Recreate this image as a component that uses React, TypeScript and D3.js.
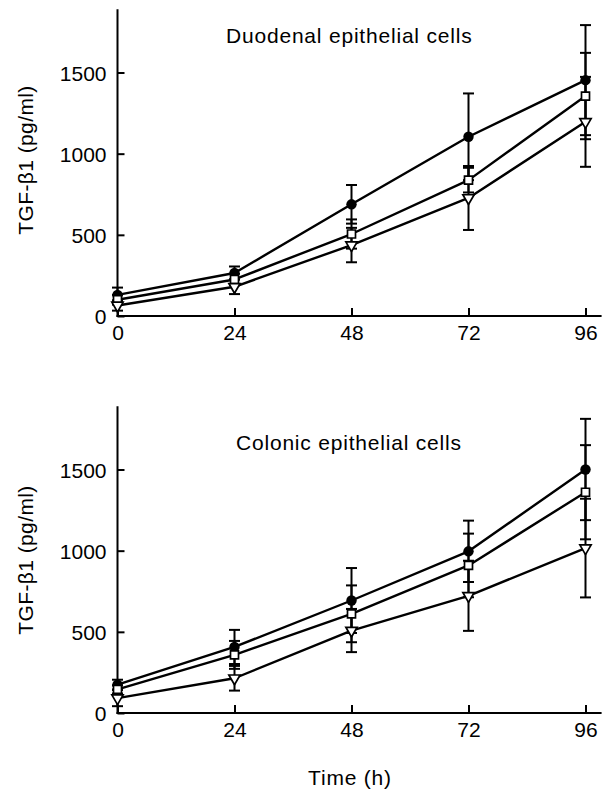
import React, { useEffect, useRef } from "react";
import * as d3 from "d3";

const hours = [0, 24, 48, 72, 96];
const xTicks = [0, 24, 48, 72, 96];
const yTicks = [0, 500, 1000, 1500];
const yLabel = "TGF-β1 (pg/ml)";
const xLabel = "Time (h)";

// duodenal epithelial cells
const duoCircle = [130, 265, 688, 1104, 1453];
const duoCircleSd = [45, 40, 119, 267, 339];
const duoSquare = [100, 225, 505, 837, 1355];
const duoSquareSd = [30, 35, 90, 76, 266];
const duoTriangle = [65, 180, 437, 727, 1196];
const duoTriangleSd = [32, 45, 106, 197, 277];

// colonic epithelial cells
const colCircle = [175, 407, 693, 996, 1500];
const colCircleSd = [30, 105, 200, 189, 312];
const colSquare = [145, 358, 611, 909, 1360];
const colSquareSd = [25, 86, 175, 196, 290];
const colTriangle = [92, 214, 508, 722, 1016];
const colTriangleSd = [50, 76, 133, 216, 304];

const font = "'Liberation Sans', Arial, sans-serif";

type Series = { values: number[]; sd: number[]; marker: string };

const drawPanel = (svg: any, title: string, titleX: number, titleY: number, base: number, labelY: number, series: Series[]) => {
    const x = d3.scaleLinear().domain([0, 96]).range([117.5, 585.5]);
    const y = d3.scaleLinear().domain([0, 1500]).range([base, base - 243.5]);
    const g = svg.append("g");

    // axis lines
    g.append("line")
        .attr("x1", x(0)).attr("x2", x(0))
        .attr("y1", y(1890)).attr("y2", y(0) + 1)
        .attr("stroke", "#000").attr("stroke-width", 2);
    g.append("line")
        .attr("x1", x(0) - 1).attr("x2", x(99.3))
        .attr("y1", y(0)).attr("y2", y(0))
        .attr("stroke", "#000").attr("stroke-width", 2);

    const yAxis = d3.axisLeft(y).tickValues(yTicks).tickFormat(d3.format("d"))
        .tickSizeInner(-7).tickSizeOuter(0).tickPadding(11);
    const ya = g.append("g")
        .attr("transform", `translate(${x(0)},0)`)
        .call(yAxis);
    ya.select(".domain").remove();
    ya.attr("font-size", 21).attr("font-family", font);
    ya.selectAll("line").attr("stroke-width", 2);
    ya.selectAll("text").attr("dy", "0.38em").attr("fill", "#000");

    const xAxis = d3.axisBottom(x).tickValues(xTicks).tickFormat(d3.format("d"))
        .tickSizeInner(-8).tickSizeOuter(0).tickPadding(9);
    const xa = g.append("g")
        .attr("transform", `translate(0,${y(0)})`)
        .call(xAxis);
    xa.select(".domain").remove();
    xa.attr("font-size", 21).attr("font-family", font);
    xa.selectAll("line").attr("stroke-width", 2);
    xa.selectAll("text").attr("fill", "#000");

    // error bars
    series.forEach(s => {
        s.values.forEach((v, i) => {
            const cx = x(hours[i]);
            const hi = y(v + s.sd[i]);
            const lo = y(v - s.sd[i]);
            g.append("line").attr("x1", cx).attr("x2", cx).attr("y1", hi).attr("y2", lo)
                .attr("stroke", "#000").attr("stroke-width", 2);
            [hi, lo].forEach(cy => {
                g.append("line").attr("x1", cx - 5.5).attr("x2", cx + 5.5).attr("y1", cy).attr("y2", cy)
                    .attr("stroke", "#000").attr("stroke-width", 2);
            });
        });
    });

    // lines
    const line = d3.line<number>().x((d, i) => x(hours[i])).y(d => y(d));
    series.forEach(s => {
        g.append("path").attr("d", line(s.values)).attr("fill", "none")
            .attr("stroke", "#000").attr("stroke-width", 2.4).attr("stroke-linejoin", "round");
    });

    // markers
    series.forEach(s => {
        s.values.forEach((v, i) => {
            const cx = x(hours[i]);
            const cy = y(v);
            if (s.marker === "circle") {
                g.append("path").attr("d", d3.symbol(d3.symbolCircle, 85)())
                    .attr("transform", `translate(${cx},${cy})`).attr("fill", "#000");
            } else if (s.marker === "square") {
                g.append("path").attr("d", d3.symbol(d3.symbolSquare, 64)())
                    .attr("transform", `translate(${cx},${cy})`)
                    .attr("fill", "#fff").attr("stroke", "#000").attr("stroke-width", 1.7);
            } else {
                g.append("path").attr("d", d3.symbol(d3.symbolTriangle, 55)())
                    .attr("transform", `translate(${cx},${cy}) rotate(180)`)
                    .attr("fill", "#fff").attr("stroke", "#000").attr("stroke-width", 1.7);
            }
        });
    });

    g.append("text")
        .attr("x", titleX).attr("y", titleY)
        .attr("font-family", font).attr("font-size", 21).attr("letter-spacing", 0.8)
        .text(title);

    g.append("text")
        .attr("transform", `translate(33,${labelY}) rotate(-90)`)
        .attr("text-anchor", "middle")
        .attr("font-family", font).attr("font-size", 21).attr("letter-spacing", 0.4)
        .text(yLabel);
};

const App = () => {
    const ref = useRef<SVGSVGElement>(null);

    useEffect(() => {
        if (!ref.current) return;
        const svg = d3.select(ref.current);
        svg.selectAll("*").remove();

        svg.append("rect").attr("width", 605).attr("height", 791).attr("fill", "#fff");

        drawPanel(svg, "Duodenal epithelial cells", 226, 43, 316, 160, [
            { values: duoCircle, sd: duoCircleSd, marker: "circle" },
            { values: duoSquare, sd: duoSquareSd, marker: "square" },
            { values: duoTriangle, sd: duoTriangleSd, marker: "triangle" },
        ]);

        drawPanel(svg, "Colonic epithelial cells", 236, 450, 713, 560, [
            { values: colCircle, sd: colCircleSd, marker: "circle" },
            { values: colSquare, sd: colSquareSd, marker: "square" },
            { values: colTriangle, sd: colTriangleSd, marker: "triangle" },
        ]);

        svg.append("text")
            .attr("x", 350).attr("y", 785)
            .attr("text-anchor", "middle")
            .attr("font-family", font).attr("font-size", 21).attr("letter-spacing", 0.8)
            .text(xLabel);
    }, [ref]);

    return (
        <svg ref={ref} width={605} height={791} style={{ position: "absolute", left: 0, top: 0 }}></svg>
    );
};

export default App;
